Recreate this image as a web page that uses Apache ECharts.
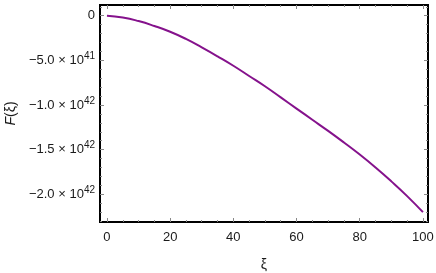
<!DOCTYPE html>
<html>
<head>
<meta charset="utf-8">
<script src="https://cdn.jsdelivr.net/npm/echarts@6/dist/echarts.min.js"></script>
<style>html,body{margin:0;padding:0;background:#fff;}#c{width:436px;height:273px;}</style>
</head>
<body>
<div id="c"></div>
<script>
// ξ values and F(ξ) values (units of 1e42)
const xiValues = [0,5,10,15,20,25,30,35,40,45,50,55,60,65,70,75,80,85,90,95,100];
const fValues = [0,-0.02,-0.06,-0.115,-0.18,-0.26,-0.355,-0.455,-0.56,-0.675,-0.79,-0.915,-1.04,-1.165,-1.29,-1.42,-1.555,-1.70,-1.855,-2.02,-2.2];
const xMajorTicks = [0,20,40,60,80,100];
const xMinorTicks = [5,10,15,25,30,35,45,50,55,65,70,75,85,90,95];
const yMajorTicks = [0,-0.5,-1.0,-1.5,-2.0];
const yMinorTicks = [0.1,-0.1,-0.2,-0.3,-0.4,-0.6,-0.7,-0.8,-0.9,-1.1,-1.2,-1.3,-1.4,-1.6,-1.7,-1.8,-1.9,-2.1,-2.2,-2.3];
const yTickLabels = {'0':'0','-0.5':'−5.0 × 10|41','-1':'−1.0 × 10|42','-1.5':'−1.5 × 10|42','-2':'−2.0 × 10|42'};

const XMIN = -2.2, XMAX = 101.6, YMIN = -2.31, YMAX = 0.12;
const FONT = 'Liberation Sans, Arial, sans-serif';
const tickCol = '#888';
const txtCol = '#1a1a1a';

function xAxisDef(pos, custom, len, labels) {
  return {
    type: 'value', position: pos, min: XMIN, max: XMAX,
    axisLine: {show: true, onZero: false, lineStyle: {color: '#000', width: 2}},
    axisTick: {show: true, inside: true, length: len, customValues: custom, lineStyle: {color: tickCol, width: 1}},
    axisLabel: labels ? {show: true, customValues: xMajorTicks, color: txtCol, fontSize: 13, fontFamily: FONT, margin: 9} : {show: false},
    splitLine: {show: false}
  };
}
function yAxisDef(pos, custom, len, labels) {
  return {
    type: 'value', position: pos, min: YMIN, max: YMAX,
    axisLine: {show: true, onZero: false, lineStyle: {color: '#000', width: 2}},
    axisTick: {show: true, inside: true, length: len, customValues: custom, lineStyle: {color: tickCol, width: 1}},
    axisLabel: labels ? {
      show: true, customValues: yMajorTicks, color: txtCol, fontSize: 13, fontFamily: FONT, margin: 5,
      formatter: function (v) {
        const key = String(Math.round(v * 10) / 10);
        const t = yTickLabels[key];
        if (t === undefined) return '';
        if (t.indexOf('|') < 0) return '{b|' + t + '}';
        const p = t.split('|');
        return '{b|' + p[0] + '}{s|' + p[1] + '}';
      },
      rich: {
        b: {fontSize: 13, fontFamily: FONT, color: txtCol, lineHeight: 15},
        s: {fontSize: 10, fontFamily: FONT, color: txtCol, padding: [0, 0, 8, 0]}
      }
    } : {show: false},
    splitLine: {show: false}
  };
}

const chart = echarts.init(document.getElementById('c'), null, {renderer: 'canvas'});
const xAxes = [
  xAxisDef('bottom', xMajorTicks, 4, true),
  xAxisDef('bottom', xMinorTicks, 2, false),
  xAxisDef('top', xMajorTicks, 4, false),
  xAxisDef('top', xMinorTicks, 2, false)
];
xAxes[0].name = 'ξ';
xAxes[0].nameLocation = 'middle';
xAxes[0].nameGap = 36;
xAxes[0].nameTextStyle = {fontSize: 14, color: txtCol, fontFamily: FONT};
const yAxes = [
  yAxisDef('left', yMajorTicks, 4, true),
  yAxisDef('left', yMinorTicks, 2, false),
  yAxisDef('right', yMajorTicks, 4, false),
  yAxisDef('right', yMinorTicks, 2, false)
];
yAxes[0].name = '{i|F}(ξ)';
yAxes[0].nameLocation = 'middle';
yAxes[0].nameGap = 82;
yAxes[0].nameTextStyle = {fontSize: 14, color: txtCol, fontFamily: FONT, rich: {i: {fontStyle: 'italic', fontSize: 14, fontFamily: FONT, color: txtCol}}};

chart.setOption({
  animation: false,
  backgroundColor: '#fff',
  grid: {left: 100, right: 8, top: 5, bottom: 51, containLabel: false, outerBoundsMode: 'none'},
  xAxis: xAxes,
  yAxis: yAxes,
  series: [{
    type: 'line',
    xAxisIndex: 0, yAxisIndex: 0,
    data: xiValues.map((x, i) => [x, fValues[i]]),
    smooth: true,
    showSymbol: false,
    lineStyle: {color: '#85128c', width: 2}
  }]
});
</script>
</body>
</html>
